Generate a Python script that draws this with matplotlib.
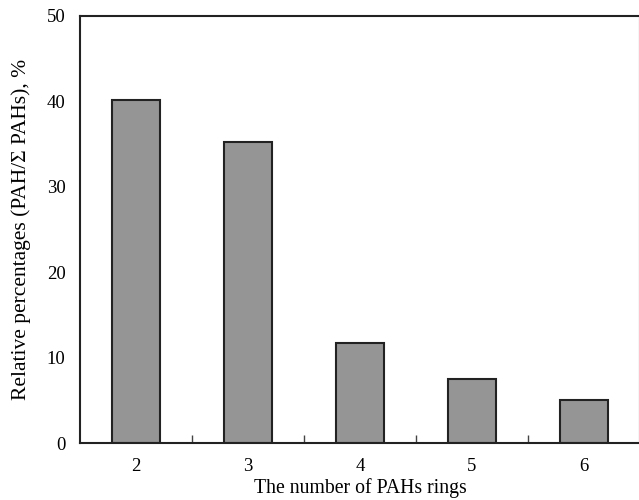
import matplotlib
matplotlib.use("Agg")
import matplotlib.pyplot as plt
import numpy as np

# --- data ---
rings = ["2", "3", "4", "5", "6"]
percent = [40.2, 35.2, 11.7, 7.5, 5.0]

plt.rcParams['font.family'] = ['Liberation Serif', 'DejaVu Serif']

fig = plt.figure(figsize=(6.39, 5.0), dpi=100)
ax = fig.add_axes([80 / 639, 57 / 500, 560 / 639, 427 / 500])

pos = np.arange(len(rings))
ax.bar(pos, percent, width=0.42, color='#959595', edgecolor='#222222', linewidth=1.5)

ax.set_xlim(-0.5, len(rings) - 0.5)
ax.set_ylim(0, 50)
ax.set_yticks(np.arange(0, 51, 10))
ax.tick_params(axis='y', length=0, pad=10.5, labelsize=13.5)

# category labels at the bar centres, small tick marks between the bars
ax.set_xticks(pos)
ax.set_xticklabels(rings, fontsize=13.5)
ax.tick_params(axis='x', which='major', length=0, pad=11)
ax.set_xticks(pos[:-1] + 0.5, minor=True)
ax.tick_params(axis='x', which='minor', direction='in', length=6, width=1, color='#444444')

for s in ax.spines.values():
    s.set_linewidth(1.5)
    s.set_color('#222222')

ax.set_xlabel('The number of PAHs rings', fontsize=14.2, labelpad=2)
ax.set_ylabel('Relative percentages (PAH/\u03a3 PAHs), %', fontsize=15.5, labelpad=11)

fig.savefig('out.png', dpi=100)
